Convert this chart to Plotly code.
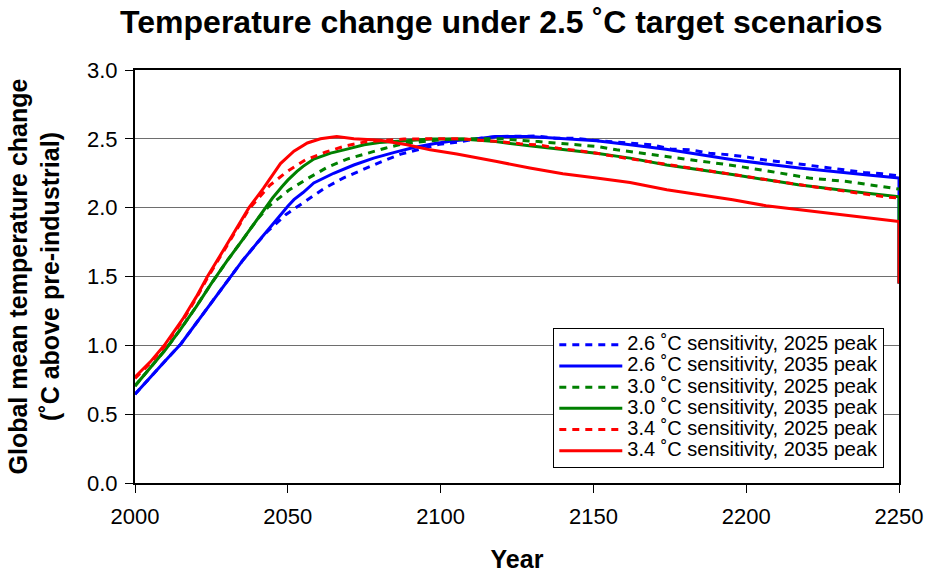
import plotly.graph_objects as go

# ---- data ----
bd_years = [2000, 2005, 2010, 2015, 2020, 2025, 2030, 2035, 2040, 2043, 2049.3, 2055.8, 2061.8, 2068.1, 2074.6,
            2080.8, 2087, 2093.3, 2099.6, 2106.2, 2112.4, 2118.6, 2125, 2131, 2137.5, 2143.5, 2150, 2156.5,
            2163, 2169, 2175.5, 2181.5, 2188, 2194.5, 2200.5, 2207, 2213.5, 2219.5, 2226, 2232, 2238.6,
            2244.5, 2250]
bd_vals = [0.645, 0.77, 0.89, 1.01, 1.16, 1.31, 1.465, 1.61, 1.745, 1.82, 1.949, 2.05, 2.138, 2.215, 2.28,
           2.336, 2.389, 2.425, 2.46, 2.478, 2.503, 2.517, 2.517, 2.52, 2.505, 2.505, 2.49, 2.48,
           2.469, 2.457, 2.425, 2.42, 2.396, 2.384, 2.367, 2.343, 2.328, 2.31, 2.288, 2.275, 2.256,
           2.246, 2.23]

bs_years = [2000, 2005, 2010, 2015, 2020, 2025, 2030, 2035, 2040, 2045, 2050, 2052, 2055, 2058.5, 2065,
            2071.6, 2078.1, 2084.6, 2091.2, 2097.7, 2104.2, 2110, 2118, 2129, 2140, 2151, 2162, 2173.8,
            2195.6, 2217.4, 2239, 2250, 2250]
bs_vals = [0.645, 0.77, 0.89, 1.01, 1.16, 1.31, 1.465, 1.61, 1.745, 1.88, 2.01, 2.058, 2.11, 2.18, 2.25,
           2.31, 2.36, 2.40, 2.437, 2.464, 2.486, 2.496, 2.517, 2.517, 2.50, 2.486, 2.457, 2.425,
           2.348, 2.288, 2.239, 2.215, 1.45]

gd_years = [2000, 2005, 2010, 2015, 2020, 2025, 2030, 2035, 2040, 2043.8, 2050.4, 2057, 2062.9, 2069.4,
            2075.8, 2081.9, 2088, 2094.5, 2101, 2110, 2120, 2132, 2138.5, 2145, 2151.5, 2157.6, 2170,
            2182.5, 2195.6, 2208, 2220.6, 2233, 2245.6, 2250]
gd_vals = [0.705, 0.84, 0.97, 1.12, 1.28, 1.45, 1.61, 1.76, 1.915, 2.01, 2.128, 2.218, 2.293, 2.353,
           2.396, 2.432, 2.466, 2.483, 2.495, 2.5, 2.5, 2.48, 2.469, 2.457, 2.444, 2.42, 2.384,
           2.343, 2.307, 2.263, 2.215, 2.19, 2.15, 2.135]

gs_years = [2000, 2005, 2010, 2015, 2020, 2025, 2030, 2035, 2040, 2043, 2045, 2048, 2050, 2053, 2055,
            2058.5, 2064, 2069.4, 2075, 2080, 2089, 2097, 2107, 2118, 2129, 2140, 2151, 2162, 2174,
            2196, 2217, 2239, 2250, 2250]
gs_vals = [0.705, 0.84, 0.97, 1.12, 1.28, 1.45, 1.61, 1.76, 1.915, 2.01, 2.07, 2.15, 2.20, 2.263, 2.30,
           2.353, 2.396, 2.425, 2.457, 2.473, 2.488, 2.498, 2.498, 2.48, 2.449, 2.425, 2.396, 2.36, 2.31,
           2.239, 2.167, 2.106, 2.08, 1.45]

rd_years = [2000, 2005, 2009.6, 2015.6, 2020, 2023.7, 2030, 2037.3, 2044, 2049.8, 2055.8, 2062.3, 2068.9,
            2075.4, 2081.4, 2088, 2094, 2101, 2107, 2113, 2119.5, 2126, 2132, 2138.5, 2144.5, 2151,
            2157, 2176, 2195, 2219.5, 2245, 2250]
rd_vals = [0.76, 0.87, 0.99, 1.18, 1.34, 1.49, 1.72, 1.99, 2.16, 2.263, 2.348, 2.403, 2.449,
           2.478, 2.488, 2.498, 2.50, 2.50, 2.50, 2.49, 2.48, 2.464, 2.455, 2.432, 2.415, 2.396,
           2.372, 2.307, 2.246, 2.16, 2.08, 2.07]

rs_years = [2000, 2005, 2009.6, 2015.6, 2020, 2023.7, 2030, 2037.3, 2042, 2046.5, 2047.6, 2052, 2056.4,
            2060.7, 2066, 2071.6, 2080.3, 2089, 2096.6, 2105.3, 2112.9, 2118.4, 2129.2, 2140, 2151,
            2162, 2174, 2185, 2195.6, 2206.5, 2217.4, 2239, 2250, 2250]
rs_vals = [0.77, 0.88, 1.0, 1.19, 1.35, 1.5, 1.73, 2.0, 2.14, 2.29, 2.32, 2.41, 2.47,
           2.50, 2.517, 2.50, 2.49, 2.457, 2.42, 2.39, 2.36, 2.335, 2.288, 2.246, 2.215,
           2.183, 2.13, 2.094, 2.058, 2.014, 1.986, 1.933, 1.90, 1.45]

series_names = ["2.6 ˚C sensitivity, 2025 peak", "2.6 ˚C sensitivity, 2035 peak",
                "3.0 ˚C sensitivity, 2025 peak", "3.0 ˚C sensitivity, 2035 peak",
                "3.4 ˚C sensitivity, 2025 peak", "3.4 ˚C sensitivity, 2035 peak"]
y_ticks = [0.0, 0.5, 1.0, 1.5, 2.0, 2.5, 3.0]
x_ticks = [2000, 2050, 2100, 2150, 2200, 2250]

# ---- styling ----
series = [
    (bd_years, bd_vals, "#0000FF", "7px,6px"),
    (bs_years, bs_vals, "#0000FF", "solid"),
    (gd_years, gd_vals, "#008000", "7px,6px"),
    (gs_years, gs_vals, "#008000", "solid"),
    (rd_years, rd_vals, "#FF0000", "7px,6px"),
    (rs_years, rs_vals, "#FF0000", "solid"),
]

FONT = "Liberation Sans, Arial, sans-serif"
fig = go.Figure()
for (xs, ys, col, dash), name in zip(series, series_names):
    fig.add_trace(go.Scatter(x=xs, y=ys, mode="lines",
                             name=f'<span style="font-size:20px">{name}</span>',
                             line=dict(color=col, width=3, dash=dash)))

fig.update_layout(
    width=930, height=573,
    margin=dict(l=135, r=31, t=70, b=90, autoexpand=False),
    paper_bgcolor="white", plot_bgcolor="white",
    font=dict(family=FONT, color="black", size=22),
    title=dict(text="<b>Temperature change under 2.5 ˚C target scenarios</b>",
               x=0.539, xanchor="center", y=0.962, yanchor="middle",
               font=dict(size=32, family=FONT)),
    legend=dict(x=0.5475, y=0.036, xanchor="left", yanchor="bottom",
                bgcolor="white", bordercolor="black", borderwidth=1,
                font=dict(size=14, family=FONT), itemwidth=63,
                tracegroupgap=0),
    showlegend=True,
)
fig.update_xaxes(range=[2000, 2250], tickvals=x_ticks, ticktext=[str(v) for v in x_ticks],
                 showgrid=False, zeroline=False, automargin=False,
                 showline=True, linecolor="black", linewidth=2, mirror=True,
                 ticks="outside", ticklen=8, tickcolor="black", tickwidth=1,
                 ticklabelstandoff=5,
                 title=dict(text="<b>Year</b>", font=dict(size=25, family=FONT), standoff=31),
                 tickfont=dict(size=22))
fig.update_yaxes(range=[0, 3.0], tickvals=y_ticks, ticktext=[f"{v:.1f}" for v in y_ticks],
                 showgrid=True, gridcolor="#6e6e6e", gridwidth=1, zeroline=False, automargin=False,
                 showline=True, linecolor="black", linewidth=2, mirror=True,
                 ticks="outside", ticklen=8, tickcolor="black", tickwidth=1,
                 ticklabelstandoff=3,
                 title=dict(text="<b>Global mean temperature change<br>(˚C above pre-industrial)</b>",
                            font=dict(size=25, family=FONT), standoff=20),
                 tickfont=dict(size=22))

fig.write_html("out.html")
